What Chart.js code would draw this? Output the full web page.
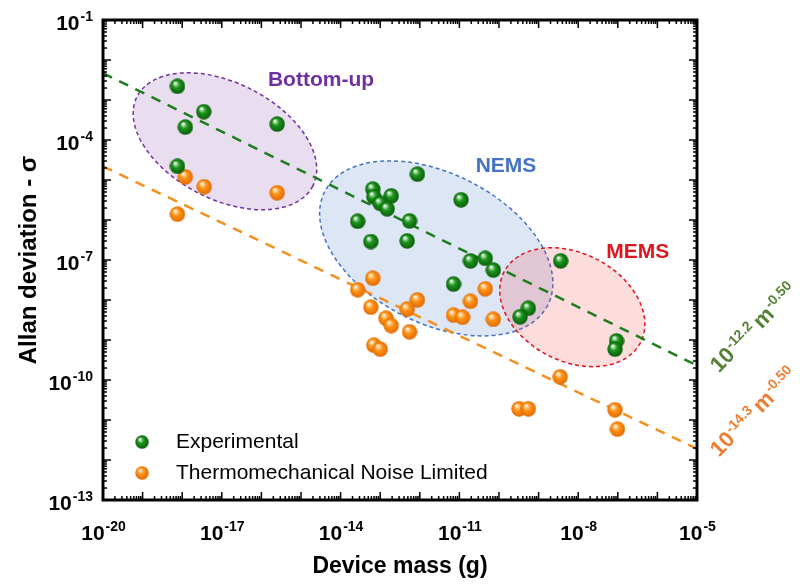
<!DOCTYPE html>
<html>
<head>
<meta charset="utf-8">
<script src="https://cdn.jsdelivr.net/npm/chart.js@4.4.0/dist/chart.umd.min.js"></script>
<style>
  html, body { margin: 0; padding: 0; background: #fff; }
</style>
</head>
<body>
<canvas id="chart" width="800" height="587"></canvas>
<script>
// measured devices (green)
const expMass = [7.6e-19, 3.5e-18, 1.2e-18, 2.5e-16, 7.6e-19,
  8.7e-13, 6.5e-14, 6.9e-14, 1.9e-13, 1.0e-13, 1.5e-13, 1.1e-11, 2.7e-14, 5.5e-13,
  5.8e-14, 4.8e-13, 1.9e-11, 4.5e-11, 7.2e-11, 7.1e-12, 5.5e-10, 3.4e-10, 3.6e-9,
  9.3e-8, 8.5e-8];
const expSigma = [2.2e-3, 5.1e-4, 2.1e-4, 2.5e-4, 2.2e-5,
  1.4e-5, 5.9e-6, 3.8e-6, 4.0e-6, 2.6e-6, 1.9e-6, 3.2e-6, 9.3e-7, 9.5e-7,
  2.9e-7, 3.0e-7, 9.5e-8, 1.1e-7, 5.6e-8, 2.5e-8, 6.2e-9, 3.8e-9, 9.5e-8,
  9.5e-10, 5.9e-10];

// thermomechanical noise limit (orange)
const tnlMass = [1.2e-18, 3.6e-18, 2.5e-16, 7.6e-19,
  6.5e-14, 2.7e-14, 5.8e-14, 1.4e-13, 1.9e-13, 8.7e-13, 4.8e-13, 5.5e-13, 6.9e-14, 1.0e-13,
  4.5e-11, 1.9e-11, 7.1e-12, 1.2e-11, 7.2e-11,
  3.5e-9, 3.2e-10, 5.5e-10, 8.5e-8, 9.8e-8];
const tnlSigma = [1.2e-5, 6.8e-6, 4.8e-6, 1.4e-6,
  3.5e-8, 1.8e-8, 6.6e-9, 3.5e-9, 2.3e-9, 1.0e-8, 5.9e-9, 1.6e-9, 7.4e-10, 5.9e-10,
  1.9e-8, 9.3e-9, 4.2e-9, 3.7e-9, 3.3e-9,
  1.2e-10, 1.9e-11, 1.9e-11, 1.8e-11, 5.9e-12];

// fit lines, end points
const fitMass = [1e-20, 1e-5];
const expFitSigma = [4.7e-3, 2.3e-10];
const tnlFitSigma = [2.2e-5, 1.9e-12];

const xTickExp = [-20, -17, -14, -11, -8, -5];
const yTickExp = [-1, -4, -7, -10, -13];

const FONT = '"Liberation Sans", Arial, sans-serif';

// device groups, centre in data units, half axes in decades
const regions = [
  { name: 'Bottom-up', cx: 1.2e-17, cy: 9.3e-5, a: 2.49, b: 1.47, angle: 26.9,
    fill: 'rgba(112,48,160,0.16)', line: '#7030a0', lx: 3.2e-15, ly: 3.2e-3 },
  { name: 'NEMS', cx: 2.6e-12, cy: 1.95e-7, a: 3.16, b: 1.89, angle: 26.9,
    fill: 'rgba(68,114,196,0.18)', line: '#4472c4', lx: 1.5e-10, ly: 2.2e-5 },
  { name: 'MEMS', cx: 7.1e-9, cy: 6.6e-9, a: 1.94, b: 1.36, angle: 27.4,
    fill: 'rgba(240,40,40,0.16)', line: '#e0141e', lx: 3.2e-7, ly: 1.6e-7 },
];

function ball(r, hi, mid, dark) {
  const c = document.createElement('canvas');
  c.width = c.height = 2 * r;
  const g = c.getContext('2d');
  const grd = g.createRadialGradient(r * 0.7, r * 0.6, r * 0.08, r, r, r);
  grd.addColorStop(0, hi);
  grd.addColorStop(0.4, mid);
  grd.addColorStop(1, dark);
  g.fillStyle = grd;
  g.beginPath();
  g.arc(r, r, r - 0.3, 0, Math.PI * 2);
  g.fill();
  return c;
}
const greenBall = ball(8, '#e8f7e8', '#1c951c', '#0a5a0a');
const orangeBall = ball(8, '#fff3dc', '#ff9418', '#e06800');

function toXY(xs, ys) {
  return xs.map((x, i) => ({ x: x, y: ys[i] }));
}

function drawPow(ctx, base, exp, x, y, align, big, small) {
  ctx.font = 'bold ' + big + 'px ' + FONT;
  const w1 = ctx.measureText(base).width;
  ctx.font = 'bold ' + small + 'px ' + FONT;
  const w2 = ctx.measureText(exp).width;
  let x0 = x;
  if (align === 'center') x0 = x - (w1 + w2) / 2;
  if (align === 'right') x0 = x - w1 - w2;
  ctx.textAlign = 'left';
  ctx.textBaseline = 'alphabetic';
  ctx.font = 'bold ' + big + 'px ' + FONT;
  ctx.fillText(base, x0, y);
  ctx.font = 'bold ' + small + 'px ' + FONT;
  ctx.fillText(exp, x0 + w1 + 1, y - big * 0.42);
}

function drawEquation(ctx, x, y, color, e1, e2) {
  const parts = [['10', 22, 0, 1], [e1, 14, 8, 4], ['m', 22, 0, 1], [e2, 14, 8, 0]];
  ctx.save();
  ctx.translate(x, y);
  ctx.rotate(-46 * Math.PI / 180);
  ctx.fillStyle = color;
  ctx.textAlign = 'left';
  ctx.textBaseline = 'alphabetic';
  let px = 0;
  parts.forEach(p => {
    ctx.font = 'bold ' + p[1] + 'px ' + FONT;
    ctx.fillText(p[0], px, -p[2]);
    px += ctx.measureText(p[0]).width + p[3];
  });
  ctx.restore();
}

const regionPlugin = {
  id: 'regions',
  beforeDatasetsDraw(chart) {
    const ctx = chart.ctx, xs = chart.scales.x, ys = chart.scales.y;
    const pd = (xs.getPixelForValue(1e-5) - xs.getPixelForValue(1e-20)) / 15;
    ctx.save();
    regions.forEach(r => {
      const cx = xs.getPixelForValue(r.cx), cy = ys.getPixelForValue(r.cy);
      ctx.beginPath();
      ctx.ellipse(cx, cy, r.a * pd, r.b * pd, r.angle * Math.PI / 180, 0, Math.PI * 2);
      ctx.fillStyle = r.fill;
      ctx.fill();
      ctx.setLineDash([4, 3]);
      ctx.lineWidth = 1.5;
      ctx.strokeStyle = r.line;
      ctx.stroke();
    });
    ctx.restore();
  },
  afterDraw(chart) {
    const ctx = chart.ctx, xs = chart.scales.x, ys = chart.scales.y;
    const area = chart.chartArea;
    ctx.save();

    // region names
    regions.forEach(r => {
      ctx.font = 'bold 21px ' + FONT;
      ctx.fillStyle = r.line;
      ctx.textAlign = 'center';
      ctx.textBaseline = 'middle';
      ctx.fillText(r.name, xs.getPixelForValue(r.lx), ys.getPixelForValue(r.ly));
    });

    // frame and inward ticks
    ctx.strokeStyle = '#000';
    ctx.lineWidth = 1.5;
    ctx.setLineDash([]);
    for (let e = -20; e <= -5; e++) {
      for (let m = 1; m <= 9; m++) {
        if (e === -5 && m > 1) break;
        const px = xs.getPixelForValue(m * Math.pow(10, e));
        const len = m === 1 ? 8 : 4;
        ctx.beginPath();
        ctx.moveTo(px, area.bottom); ctx.lineTo(px, area.bottom - len);
        ctx.moveTo(px, area.top); ctx.lineTo(px, area.top + len);
        ctx.stroke();
      }
    }
    for (let e = -13; e <= -1; e++) {
      for (let m = 1; m <= 9; m++) {
        if (e === -1 && m > 1) break;
        const py = ys.getPixelForValue(m * Math.pow(10, e));
        const len = m === 1 ? 8 : 4;
        ctx.beginPath();
        ctx.moveTo(area.left, py); ctx.lineTo(area.left + len, py);
        ctx.moveTo(area.right, py); ctx.lineTo(area.right - len, py);
        ctx.stroke();
      }
    }
    ctx.lineWidth = 3;
    ctx.strokeRect(area.left, area.top, area.right - area.left, area.bottom - area.top);

    // tick labels
    ctx.fillStyle = '#000';
    xTickExp.forEach(e => {
      drawPow(ctx, '10', String(e), xs.getPixelForValue(Math.pow(10, e)), area.bottom + 40, 'center', 21, 14);
    });
    yTickExp.forEach(e => {
      drawPow(ctx, '10', String(e), area.left - 11, ys.getPixelForValue(Math.pow(10, e)) + 10, 'right', 21, 14);
    });

    // axis titles
    ctx.font = 'bold 23px ' + FONT;
    ctx.textAlign = 'center';
    ctx.textBaseline = 'alphabetic';
    ctx.fillText('Device mass (g)', (area.left + area.right) / 2, area.bottom + 73);
    ctx.save();
    ctx.translate(36, (area.top + area.bottom) / 2);
    ctx.rotate(-Math.PI / 2);
    ctx.font = 'bold 24px ' + FONT;
    ctx.fillText('Allan deviation - \u03c3', 0, 0);
    ctx.restore();

    // legend inside plot, lower left
    const lx = area.left + 39;
    [[greenBall, 'Experimental', area.bottom - 58], [orangeBall, 'Thermomechanical Noise Limited', area.bottom - 27]]
      .forEach(item => {
        ctx.drawImage(item[0], lx - 7, item[2] - 7, 14, 14);
        ctx.font = '21px ' + FONT;
        ctx.fillStyle = '#000';
        ctx.textAlign = 'left';
        ctx.textBaseline = 'middle';
        ctx.fillText(item[1], lx + 34, item[2]);
      });

    // fit equations next to the line ends
    const ex = xs.getPixelForValue(fitMass[1]);
    drawEquation(ctx, ex + 22, ys.getPixelForValue(expFitSigma[1]) + 8, '#548235', '-12.2', '-0.50');
    drawEquation(ctx, ex + 22, ys.getPixelForValue(tnlFitSigma[1]) + 9, '#ed7d31', '-14.3', '-0.50');

    ctx.restore();
  }
};

new Chart(document.getElementById('chart'), {
  type: 'scatter',
  data: {
    datasets: [
      {
        label: 'Experimental',
        data: toXY(expMass, expSigma),
        pointStyle: greenBall,
        order: 1,
      },
      {
        label: 'Thermomechanical Noise Limited',
        data: toXY(tnlMass, tnlSigma),
        pointStyle: orangeBall,
        order: 2,
      },
      {
        label: 'fit exp',
        data: toXY(fitMass, expFitSigma),
        showLine: true,
        pointRadius: 0,
        borderColor: '#1f7d1f',
        borderWidth: 2.5,
        borderDash: [10, 8],
        order: 3,
      },
      {
        label: 'fit tnl',
        data: toXY(fitMass, tnlFitSigma),
        showLine: true,
        pointRadius: 0,
        borderColor: '#f39020',
        borderWidth: 2.5,
        borderDash: [10, 8],
        order: 4,
      },
    ],
  },
  options: {
    responsive: false,
    devicePixelRatio: 1,
    animation: false,
    layout: { padding: { left: 103, right: 103, top: 20, bottom: 87 } },
    scales: {
      x: { type: 'logarithmic', min: 1e-20, max: 1e-5, display: false },
      y: { type: 'logarithmic', min: 1e-13, max: 1e-1, display: false },
    },
    plugins: {
      legend: { display: false },
      tooltip: { enabled: false },
    },
  },
  plugins: [regionPlugin],
});
</script>
</body>
</html>
